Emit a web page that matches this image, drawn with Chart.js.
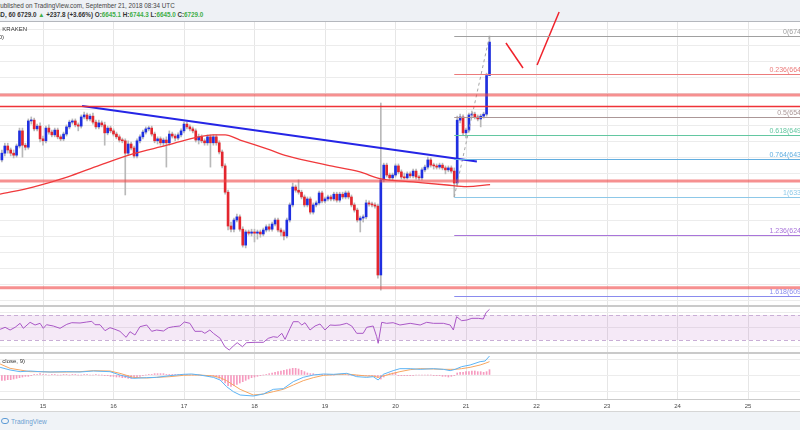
<!DOCTYPE html>
<html>
<head>
<meta charset="utf-8">
<title>XBTUSD, 60 - KRAKEN</title>
<script src="https://cdn.jsdelivr.net/npm/chart.js@4.4.1/dist/chart.umd.min.js"></script>
<style>
  html, body { margin: 0; padding: 0; background: #fff; }
  body { position: relative; width: 800px; height: 430px; overflow: hidden;
         font-family: "Liberation Sans", Arial, sans-serif; color: #333; }
  .abs { position: absolute; }
  #header { left: 0; top: 0; width: 800px; height: 21px; background: #eef1f5;
            border-bottom: 1px solid #b4b7bd; z-index: 0; }
  #header div { position: absolute; white-space: nowrap; font-size: 6.3px; line-height: 7px; }
  #header .l1 { left: -4px; top: 2px; color: #444; }
  #header .l2 { left: -21px; top: 11px; font-weight: bold; color: #333; }
  .g { color: #3fae49; }
  canvas { position: absolute; left: 0; display: block; z-index: 1; }
  .sep { left: 0; width: 800px; height: 2px; background: #cacaca; z-index: 2; }
  .legend { font-size: 6px; line-height: 7px; color: #333; white-space: nowrap;
            text-align: right; width: 300px; z-index: 2; }
  #footer { left: 0; top: 411px; width: 800px; height: 19px; background: #f0f3f7;
            border-top: 1px solid #d6d6d6; z-index: 3; }
  #footer .logo { position: absolute; left: 1px; top: 6px; width: 6px; height: 4px;
                  border: 1.5px solid #5d9bd6; border-radius: 3px; }
  #footer .name { position: absolute; left: 11px; top: 6px; font-size: 6.5px; line-height: 8px; color: #6c9fd2; }
</style>
</head>
<body>

<div id="header" class="abs">
  <div class="l1">Published on TradingView.com, September 21, 2018 08:34 UTC</div>
  <div class="l2">XBTUSD, 60 6729.0 <span class="g">&#9650;</span> +237.8 (+3.66%) O:<span class="g">6645.1</span> H:<span class="g">6744.3</span> L:<span class="g">6645.0</span> C:<span class="g">6729.0</span></div>
</div>

<canvas id="mainChart" width="800" height="305" style="top:0"></canvas>
<div class="abs legend" style="left:-273px; top:26px">Bitcoin / U.S. Dollar, 60, KRAKEN</div>
<div class="abs legend" style="left:-296px; top:34px">MA (100, close, 0)</div>

<div class="abs sep" style="top:305px"></div>
<canvas id="rsiChart" width="800" height="45" style="top:307px"></canvas>
<div class="abs sep" style="top:352px"></div>
<canvas id="macdChart" width="800" height="57" style="top:354px"></canvas>
<div class="abs legend" style="left:-275px; top:358px">MACD (12, 26, close, 9)</div>
<div class="abs sep" style="top:399px; height:1px"></div>

<div id="footer" class="abs"><span class="logo"></span><span class="name">TradingView</span></div>

<script>
var FONT = '"Liberation Sans", Arial, sans-serif';

// hourly candles, first one is Sep 14 10:00 UTC (hour -14 from Sep 15 00:00)
var FIRST_HOUR = -14;
var opens = [
  6433, 6450, 6468, 6458, 6450, 6445, 6468, 6506, 6470, 6465, 6531, 6533, 6511, 6518,
  6486, 6481, 6513, 6503, 6496, 6508, 6491, 6486, 6498, 6516, 6528, 6531, 6521, 6518, 6541, 6546,
  6536, 6543, 6528, 6516, 6526, 6521, 6501, 6513, 6506, 6498, 6491, 6483, 6481, 6450, 6473, 6463,
  6443, 6481, 6491, 6503, 6511, 6513, 6498, 6481, 6486, 6476, 6483, 6476, 6498, 6493, 6488, 6496,
  6506, 6523, 6516, 6511, 6506, 6483, 6491, 6481, 6476, 6491, 6476, 6491, 6476, 6453, 6418, 6352,
  6267, 6259, 6282, 6290, 6259, 6219, 6252, 6249, 6252, 6249, 6252, 6247, 6257, 6265, 6259, 6272,
  6282, 6257, 6252, 6242, 6282, 6320, 6365, 6357, 6352, 6340, 6320, 6335, 6302, 6320, 6325, 6350,
  6330, 6335, 6340, 6335, 6347, 6332, 6347, 6340, 6350, 6340, 6320, 6307, 6282, 6287, 6290, 6325,
  6322, 6320, 6317, 6144, 6383, 6420, 6395, 6388, 6395, 6418, 6403, 6390, 6388, 6398, 6393, 6405,
  6390, 6388, 6408, 6415, 6433, 6420, 6418, 6415, 6420, 6413, 6408, 6413, 6405, 6375, 6533, 6541,
  6501, 6508, 6546, 6548, 6541, 6536, 6543, 6548, 6645.1
];
var highs = [
  6458, 6475, 6475, 6463, 6458, 6473, 6513, 6513, 6475, 6536, 6541, 6538, 6523, 6526,
  6493, 6518, 6521, 6508, 6513, 6513, 6496, 6503, 6521, 6533, 6536, 6536, 6526, 6546, 6553, 6551,
  6548, 6551, 6533, 6533, 6531, 6528, 6518, 6518, 6511, 6503, 6496, 6488, 6486, 6481, 6478, 6468,
  6486, 6496, 6508, 6516, 6518, 6518, 6503, 6491, 6491, 6488, 6491, 6506, 6503, 6498, 6501, 6511,
  6528, 6528, 6521, 6516, 6511, 6498, 6496, 6486, 6496, 6496, 6496, 6496, 6481, 6458, 6423, 6357,
  6277, 6287, 6297, 6295, 6265, 6257, 6257, 6259, 6259, 6257, 6257, 6262, 6270, 6272, 6277, 6287,
  6287, 6262, 6257, 6287, 6325, 6375, 6370, 6383, 6357, 6345, 6340, 6340, 6325, 6330, 6355, 6355,
  6340, 6345, 6345, 6352, 6352, 6352, 6352, 6355, 6355, 6345, 6325, 6312, 6292, 6295, 6332, 6330,
  6327, 6325, 6322, 6576, 6425, 6425, 6400, 6400, 6423, 6423, 6408, 6400, 6403, 6403, 6410, 6410,
  6395, 6413, 6420, 6440, 6438, 6425, 6423, 6425, 6425, 6418, 6418, 6418, 6413, 6543, 6548, 6546,
  6513, 6551, 6556, 6553, 6546, 6548, 6553, 6651, 6744.3
];
var lows = [
  6428, 6443, 6450, 6443, 6438, 6440, 6463, 6440, 6458, 6460, 6523, 6506, 6506, 6478,
  6470, 6476, 6498, 6491, 6491, 6486, 6481, 6481, 6493, 6511, 6523, 6516, 6506, 6513, 6536, 6531,
  6531, 6523, 6511, 6511, 6516, 6470, 6496, 6501, 6493, 6486, 6478, 6476, 6345, 6445, 6458, 6438,
  6438, 6476, 6486, 6498, 6506, 6493, 6476, 6473, 6470, 6468, 6415, 6470, 6488, 6481, 6483, 6491,
  6501, 6511, 6506, 6501, 6478, 6473, 6476, 6470, 6470, 6415, 6470, 6470, 6448, 6413, 6347, 6257,
  6252, 6252, 6277, 6254, 6214, 6212, 6244, 6242, 6227, 6234, 6239, 6242, 6252, 6254, 6254, 6267,
  6252, 6242, 6232, 6237, 6277, 6315, 6352, 6347, 6335, 6315, 6315, 6297, 6297, 6315, 6320, 6325,
  6325, 6330, 6330, 6330, 6327, 6327, 6335, 6335, 6335, 6315, 6302, 6277, 6252, 6277, 6285, 6317,
  6315, 6312, 6136, 6106, 6378, 6390, 6383, 6383, 6390, 6398, 6385, 6385, 6385, 6388, 6388, 6385,
  6383, 6383, 6403, 6410, 6415, 6410, 6410, 6410, 6408, 6398, 6403, 6400, 6340, 6367, 6526, 6495,
  6488, 6503, 6541, 6536, 6531, 6516, 6538, 6543, 6645.0
];
var closes = [
  6450, 6468, 6458, 6450, 6445, 6468, 6506, 6470, 6465, 6531, 6533, 6511, 6518, 6486,
  6481, 6513, 6503, 6496, 6508, 6491, 6486, 6498, 6516, 6528, 6531, 6521, 6518, 6541, 6546, 6536,
  6543, 6528, 6516, 6526, 6521, 6501, 6513, 6506, 6498, 6491, 6483, 6481, 6450, 6473, 6463, 6443,
  6481, 6491, 6503, 6511, 6513, 6498, 6481, 6486, 6476, 6483, 6476, 6498, 6493, 6488, 6496, 6506,
  6523, 6516, 6511, 6506, 6483, 6491, 6481, 6476, 6491, 6476, 6491, 6476, 6453, 6418, 6352, 6267,
  6259, 6282, 6290, 6259, 6219, 6252, 6249, 6252, 6249, 6252, 6247, 6257, 6265, 6259, 6272, 6282,
  6257, 6252, 6242, 6282, 6320, 6365, 6357, 6352, 6340, 6320, 6335, 6302, 6320, 6325, 6350, 6330,
  6335, 6340, 6335, 6347, 6332, 6347, 6340, 6350, 6340, 6320, 6307, 6282, 6287, 6290, 6325, 6322,
  6320, 6317, 6144, 6383, 6420, 6395, 6388, 6395, 6418, 6403, 6390, 6388, 6398, 6393, 6405, 6390,
  6388, 6408, 6415, 6433, 6420, 6418, 6415, 6420, 6413, 6408, 6413, 6405, 6375, 6533, 6541, 6501,
  6508, 6546, 6548, 6541, 6536, 6543, 6548, 6645, 6729.0
];

// MA(100): (hour, price)
var smaHours = [-14.64, -3.4, 8.2, 19.4, 30.6, 42.2, 51.1, 57.9, 62.0, 67.1, 77.3, 83.1, 96.7, 107.9, 114.7, 126.0, 137.5, 144.3, 152.2];
var smaValues = [6347, 6365, 6390, 6420, 6448, 6470, 6488, 6496, 6496, 6483, 6458, 6443, 6420, 6403, 6386, 6378, 6370, 6366, 6371];

// drawings
var trendHours = [13.3, 147.7];
var trendPrices = [6568.4, 6429.0];
var arrowDownHours = [157.6, 163.4];
var arrowDownPrices = [6726.7, 6663.9];
var arrowUpHours = [168.2, 175.7];
var arrowUpPrices = [6671.4, 6804.6];
var srLevels = [6596, 6567, 6380, 6112];

// fib retracement 6339.9 -> 6744.3
var FIB_FROM = 140;
var fibAnchorHours = [140, 152];
var fibAnchorPrices = [6339.9, 6744.3];
var fibRatios = [0, 0.236, 0.5, 0.618, 0.764, 1, 1.236, 1.618];
var fibPrices = [6744.3, 6648.9, 6542.1, 6494.4, 6435.3, 6339.9, 6244.5, 6090.0];

// RSI(14)
var rsiHours = [
  -14.6, -12.9, -11.2, -9.5, -7.8, -6.7, -4.4, -2.7, -1.0, 0.1,
  1.2, 3.5, 5.8, 8.1, 9.8, 12.6, 14.9, 16.6, 17.7, 19.4,
  21.1, 22.8, 24.5, 26.2, 28.3, 29.6, 31.3, 33.0, 35.3, 37.0,
  38.7, 41.0, 42.7, 44.4, 46.6, 48.1, 50.0, 51.7, 54.0, 55.1,
  56.8, 58.0, 60.3, 61.9, 63.4, 64.8, 66.1, 67.9, 69.3, 72.2,
  75.0, 76.7, 78.4, 79.8, 81.3, 82.4, 84.1, 85.2, 86.9, 88.1,
  89.2, 90.9, 92.6, 94.3, 96.0, 97.7, 99.4, 101.1, 103.4, 105.1,
  106.8, 109.0, 110.2, 112.4, 113.6, 114.1, 115.3, 117.0, 119.2, 121.5,
  125.0, 128.4, 130.6, 132.9, 136.3, 138.6, 139.7, 140.8, 142.5, 144.3,
  146.0, 148.2, 149.9, 150.8, 152.0
];
var rsiValues = [
  47.1, 50.3, 46.0, 50.3, 56.7, 48.7, 58.3, 54.0, 56.7, 48.7,
  54.5, 52.4, 48.7, 55.1, 57.7, 57.2, 58.8, 59.9, 54.5, 54.5,
  44.9, 49.7, 47.1, 43.9, 34.3, 43.3, 38.0, 51.3, 54.0, 43.9,
  46.0, 44.4, 49.7, 51.3, 52.4, 58.8, 56.7, 43.9, 43.9, 40.7,
  46.0, 40.7, 32.7, 19.3, 14.0, 20.4, 25.7, 19.3, 25.7, 26.3,
  26.3, 32.7, 35.3, 34.3, 40.7, 31.1, 48.7, 59.3, 59.3, 54.0,
  57.7, 46.0, 52.4, 55.6, 46.0, 54.0, 53.5, 54.0, 56.7, 52.4,
  40.7, 40.7, 50.3, 52.4, 35.3, 24.7, 58.3, 56.7, 57.7, 54.0,
  56.7, 54.0, 58.3, 56.7, 56.7, 54.0, 46.0, 67.3, 60.9, 62.0,
  64.7, 64.7, 63.6, 73.7, 79.1
];

// MACD(12, 26, close, 9)
var macdHours = [
  -14.6, -11.2, -7.8, -4.4, -1.0, 2.4, 8.1, 12.6, 17.1, 22.8,
  26.2, 30.7, 35.3, 38.7, 43.2, 47.8, 50.6, 53.4, 58.0, 60.3,
  62.5, 64.8, 67.1, 71.6, 75.0, 78.4, 81.8, 85.2, 88.6, 92.0,
  95.5, 98.9, 103.4, 106.8, 110.2, 112.4, 114.1, 115.8, 119.2, 121.5,
  125.0, 128.4, 132.9, 136.3, 138.6, 140.3, 142.5, 145.4, 148.8, 150.5,
  152.0
];
var macdLine = [
  11.5, 7.5, 5, 6, 5, 4.5, 5, 4.5, 6, 5,
  0, -5, -4, -3.5, -1, 1, 1.5, 0, -3.5, -7.5,
  -17.5, -25, -30, -31.5, -28.5, -21.5, -20.5, -10, -3.5, 0,
  1.5, 1, 2.5, -2.5, -3.5, -2.5, -7.5, 1, 6.5, 9.5,
  9.5, 8.5, 9.5, 8.5, 6.5, 8.5, 12.5, 15, 20, 21,
  28.5
];
var signalLine = [
  16.5, 10, 7.5, 5, 5, 4.5, 4.5, 5, 6.5, 6,
  2.5, -3.5, -4.5, -3.5, -2.5, -0.5, 0, 0, -1.5, -4,
  -8.5, -15, -21.5, -30, -28.5, -25, -21.5, -15, -8.5, -4,
  -0.5, 0.5, 1.5, 0, -1.5, -1.5, -3.5, -1.5, 2.5, 5,
  8, 9.5, 9, 8.5, 8.5, 8.5, 9.5, 11.5, 15, 17.5,
  20
];
// one histogram bar per candle
var macdHist = [
  -8, -8, -7, -7, -6, -5, -4, -3, -2, -2, -1, 1, 1, 2, 1,
  1, 0, 1, 1, 0, 0, 1, 1, 0, 1, 1, 0, 0, 1, 1, 0, 0, 1, 0, 0,
  -1, -1, -2, -2, -3, -3, -4, -4, -5, -5, -4, -3, -2, -1, 0,
  1, 1, 2, 2, 2, 2, 1, 1, 1, 1, 1, 1, 1, 1, 0, 0, 0, 0, -1, -1,
  -1, -2, -2, -3, -5, -8, -12, -16, -17, -16, -14, -12, -10, -8, -6,
  -4, -3, -2, -1, 0, 1, 2, 3, 4, 5, 6, 7, 8, 9, 10, 10, 9, 7, 5, 3,
  2, 2, 1, 1, 1, 1, 1, 0, 0, 1, 1, 1, 1, 0, 0, -1, -1, -1, -1, -1,
  -1, -1, -2, -4, -6, -3, 0, 2, 3, 4,
  -1, -1, -1, -1, -1, -1, 0, 0, 0, 0, 0, 0, -1, -1, -1, -2, -2, -3, -2, -1,
  3, 4, 4, 5, 5, 6, 6, 5, 5, 4, 5, 8
];

// axes
var X_MIN = -14.64, X_MAX = 257.7;
var dayHours = [0, 24, 48, 72, 96, 120, 144, 168, 192, 216, 240];
var dayLabels = ['15', '16', '17', '18', '19', '20', '21', '22', '23', '24', '25'];
var priceGrid = [6080, 6120, 6160, 6200, 6240, 6280, 6320, 6360, 6400, 6440, 6480, 6520, 6560, 6600, 6640, 6680, 6720, 6760];
var rsiGrid = [74, 50, 19];
var macdGrid = [-24, 0, 24];

var hours = opens.map(function (v, i) { return FIRST_HOUR + i; });

function points(xs, ys) {
  return xs.map(function (x, i) { return { x: x, y: ys[i] }; });
}

function timeAxis(showLabels) {
  return {
    type: 'linear', min: X_MIN, max: X_MAX, offset: false,
    grid: { color: '#e6e6e6', drawTicks: false, offset: false },
    border: { display: false },
    ticks: {
      display: showLabels, autoSkip: false, maxRotation: 0, padding: 4,
      color: '#4a4a4a', font: { size: 6, family: FONT },
      callback: function (v) { var i = dayHours.indexOf(v); return i < 0 ? '' : dayLabels[i]; }
    },
    afterBuildTicks: function (s) { s.ticks = dayHours.map(function (v) { return { value: v }; }); },
    afterFit: function (s) { s.height = showLabels ? 12 : 0; }
  };
}

function valueAxis(min, max, grid) {
  return {
    type: 'linear', position: 'right', min: min, max: max,
    grid: { color: '#ececec', drawTicks: false },
    border: { display: false },
    ticks: { display: false },
    afterBuildTicks: function (s) { s.ticks = grid.map(function (v) { return { value: v }; }); },
    afterFit: function (s) { s.width = 0; }
  };
}

var baseOptions = {
  responsive: false, animation: false, devicePixelRatio: 1,
  plugins: { legend: { display: false }, tooltip: { enabled: false } }
};

// ---- main pane: candles + drawings ----
var upColor = '#1f2fe0', downColor = '#e3262e', wickColor = '#b9b9b9';
var bodyColors = closes.map(function (c, i) { return c >= opens[i] ? upColor : downColor; });

var srStyles = [
  { color: 'rgba(240, 70, 70, 0.6)', width: 3 },
  { color: 'rgba(238, 40, 45, 0.95)', width: 1.5 },
  { color: 'rgba(240, 70, 70, 0.6)', width: 3 },
  { color: 'rgba(240, 70, 70, 0.6)', width: 3 }
];
var fibColors = ['#a0a0a0', '#ec7b7b', '#ab9797', '#63c7a1', '#62aee0', '#8dc8e8', '#a975da', '#8a8bee'];

var overlayPlugin = {
  id: 'overlay',
  afterDatasetsDraw: function (chart) {
    var ctx = chart.ctx, xs = chart.scales.x, ys = chart.scales.y, area = chart.chartArea;
    ctx.save();
    srLevels.forEach(function (p, i) {
      var y = ys.getPixelForValue(p);
      ctx.strokeStyle = srStyles[i].color;
      ctx.lineWidth = srStyles[i].width;
      ctx.beginPath(); ctx.moveTo(area.left, y); ctx.lineTo(area.right, y); ctx.stroke();
    });
    var x0 = xs.getPixelForValue(FIB_FROM);
    ctx.font = '7px ' + FONT;
    ctx.textAlign = 'right';
    ctx.textBaseline = 'bottom';
    fibRatios.forEach(function (r, i) {
      var y = Math.round(ys.getPixelForValue(fibPrices[i])) + 0.5;
      ctx.strokeStyle = fibColors[i];
      ctx.lineWidth = 1;
      ctx.beginPath(); ctx.moveTo(x0, y); ctx.lineTo(area.right, y); ctx.stroke();
      ctx.fillStyle = fibColors[i];
      ctx.fillText(r + '(' + fibPrices[i].toFixed(1) + ')', area.right + 13, y - 1);
    });
    ctx.restore();
  }
};

new Chart(document.getElementById('mainChart'), {
  type: 'bar',
  data: {
    datasets: [
      { type: 'line', data: points(smaHours, smaValues), borderColor: '#f0393c', borderWidth: 1.3,
        pointRadius: 0, cubicInterpolationMode: 'monotone', order: 0 },
      { type: 'line', data: points(trendHours, trendPrices), borderColor: '#2525e6', borderWidth: 2,
        pointRadius: 0, order: 0 },
      { type: 'line', data: points(fibAnchorHours, fibAnchorPrices), borderColor: '#a5a5a5', borderWidth: 1,
        borderDash: [3, 3], pointRadius: 0, order: 0 },
      { type: 'line', data: points(arrowDownHours, arrowDownPrices), borderColor: '#f0222b', borderWidth: 1.5,
        pointRadius: 0, clip: false, order: 0 },
      { type: 'line', data: points(arrowUpHours, arrowUpPrices), borderColor: '#f0222b', borderWidth: 1.5,
        pointRadius: 0, clip: false, order: 0 },
      { type: 'bar', data: hours.map(function (h, i) { return { x: h, y: [opens[i], closes[i]] }; }),
        backgroundColor: bodyColors, barThickness: 2, grouped: false, minBarLength: 1, order: 1 },
      { type: 'bar', data: hours.map(function (h, i) { return { x: h, y: [lows[i], highs[i]] }; }),
        backgroundColor: wickColor, barThickness: 1, grouped: false, order: 2 }
    ]
  },
  options: Object.assign({}, baseOptions, {
    layout: { padding: { top: 22, left: 0, right: 0, bottom: 0 } },
    scales: { x: timeAxis(false), y: valueAxis(6068.6, 6779.5, priceGrid) }
  }),
  plugins: [overlayPlugin]
});

// ---- RSI pane ----
var rsiBandPlugin = {
  id: 'rsiBand',
  beforeDatasetsDraw: function (chart) {
    var ctx = chart.ctx, ys = chart.scales.y, area = chart.chartArea;
    var top = ys.getPixelForValue(70), bottom = ys.getPixelForValue(30);
    ctx.save();
    ctx.fillStyle = 'rgba(156, 39, 176, 0.10)';
    ctx.fillRect(area.left, top, area.right - area.left, bottom - top);
    ctx.strokeStyle = '#c9aed6';
    ctx.lineWidth = 1;
    ctx.setLineDash([4, 3]);
    [top, bottom].forEach(function (y) {
      y = Math.round(y) + 0.5;
      ctx.beginPath(); ctx.moveTo(area.left, y); ctx.lineTo(area.right, y); ctx.stroke();
    });
    ctx.restore();
  }
};

new Chart(document.getElementById('rsiChart'), {
  type: 'line',
  data: {
    datasets: [
      { data: points(rsiHours, rsiValues), borderColor: '#a957c6', borderWidth: 1, pointRadius: 0 }
    ]
  },
  options: Object.assign({}, baseOptions, {
    layout: { padding: 0 },
    scales: { x: timeAxis(false), y: valueAxis(10.8, 82.8, rsiGrid) }
  }),
  plugins: [rsiBandPlugin]
});

// ---- MACD pane ----
new Chart(document.getElementById('macdChart'), {
  type: 'bar',
  data: {
    datasets: [
      { type: 'line', data: points(macdHours, macdLine), borderColor: '#5db4f5', borderWidth: 1,
        pointRadius: 0, order: 0 },
      { type: 'line', data: points(macdHours, signalLine), borderColor: '#f7a660', borderWidth: 1,
        pointRadius: 0, order: 0 },
      { type: 'bar', data: hours.map(function (h, i) { return { x: h, y: macdHist[i] }; }),
        backgroundColor: 'rgba(243, 120, 170, 0.75)', barThickness: 1, grouped: false, order: 1 }
    ]
  },
  options: Object.assign({}, baseOptions, {
    layout: { padding: 0 },
    scales: { x: timeAxis(true), y: valueAxis(-36, 31.5, macdGrid) }
  })
});
</script>
</body>
</html>
